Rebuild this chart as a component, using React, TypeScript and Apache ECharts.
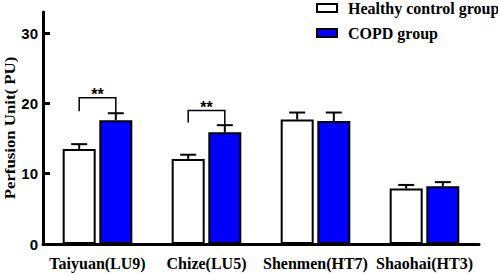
import React, { useEffect, useRef } from "react";
import * as echarts from "echarts";

const categories = ["Taiyuan(LU9)", "Chize(LU5)", "Shenmen(HT7)", "Shaohai(HT3)"];
const seriesNames = ["Healthy control group", "COPD group"];
const healthyMeans = [13.5, 12.1, 17.7, 7.9];
const healthyErrors = [0.7, 0.6, 1.0, 0.5];
const copdMeans = [17.6, 15.9, 17.5, 8.2];
const copdErrors = [1.0, 1.0, 1.2, 0.6];
// [category index, bracket top, left leg bottom, right leg bottom, label]
const significance: [number, number, number, number, string][] = [
  [0, 20.8, 18.9, 18.6, "**"],
  [1, 19.0, 17.3, 16.9, "**"],
];
const yTicks = [0, 10, 20, 30];

const BAR_W = 33;
const BAR_GAP = 0.11;
const OFFSET = (BAR_W + BAR_W * BAR_GAP) / 2;
const SERIF = "'Liberation Serif', 'Times New Roman', serif";

export default function App() {
  const ref = useRef<HTMLDivElement>(null);
  useEffect(() => {
    if (!ref.current) return;
    const chart = echarts.init(ref.current, null, { renderer: "svg" });
    const errData: number[][] = [];
    healthyMeans.forEach((v, i) => errData.push([i, v, healthyErrors[i], 0]));
    copdMeans.forEach((v, i) => errData.push([i, v, copdErrors[i], 1]));

    chart.setOption({
      animation: false,
      textStyle: { fontFamily: SERIF },
      grid: { left: 43, right: 19, top: 12, bottom: 30, containLabel: false },
      legend: {
        orient: "vertical",
        left: 316,
        top: 0,
        padding: 0,
        itemWidth: 20,
        itemHeight: 8,
        itemGap: 9,
        data: seriesNames,
        icon: "rect",
        itemStyle: { borderColor: "#000", borderWidth: 2 },
        textStyle: {
          fontFamily: SERIF,
          fontWeight: "bold",
          fontSize: 16,
          color: "#000",
          lineHeight: 16,
          padding: [0, 0, 0, 6],
        },
      },
      xAxis: {
        type: "category",
        data: categories,
        axisLine: { lineStyle: { color: "#000", width: 3 } },
        axisTick: { show: false },
        axisLabel: {
          color: "#000",
          fontFamily: SERIF,
          fontWeight: "bold",
          fontSize: 16,
          margin: 11,
          interval: 0,
        },
      },
      yAxis: {
        type: "value",
        min: 0,
        max: 33,
        interval: 10,
        splitLine: { show: false },
        axisLine: { show: true, lineStyle: { color: "#000", width: 3 } },
        axisTick: {
          show: true,
          inside: true,
          length: 7,
          lineStyle: { color: "#000", width: 3 },
          customValues: yTicks,
        },
        axisLabel: {
          color: "#000",
          fontFamily: "Liberation Sans",
          fontWeight: "bold",
          fontSize: 15,
          margin: 5,
          customValues: yTicks,
        },
      },
      graphic: [
        {
          type: "text",
          x: 9.5,
          y: 128,
          rotation: Math.PI / 2,
          scaleX: 1.12,
          style: {
            text: "Perfusion Unit( PU)",
            fontFamily: SERIF,
            fontWeight: "bold",
            fontSize: 15,
            fill: "#000",
            textAlign: "center",
            textVerticalAlign: "middle",
          },
        },
      ],
      series: [
        {
          name: seriesNames[0],
          type: "bar",
          data: healthyMeans,
          barWidth: BAR_W,
          barGap: BAR_GAP * 100 + "%",
          itemStyle: { color: "#fff", borderColor: "#000", borderWidth: 2 },
        },
        {
          name: seriesNames[1],
          type: "bar",
          data: copdMeans,
          barWidth: BAR_W,
          barGap: BAR_GAP * 100 + "%",
          itemStyle: { color: "#0000ff", borderColor: "#000", borderWidth: 2 },
        },
        {
          type: "custom",
          data: errData,
          z: 1,
          renderItem: (params: any, api: any) => {
            const cat = api.value(0);
            const v = api.value(1);
            const e = api.value(2);
            const s = api.value(3);
            const cx = api.coord([cat, 0])[0] + (s === 0 ? -OFFSET : OFFSET);
            const y0 = api.coord([cat, v])[1];
            const y1 = api.coord([cat, v + e])[1];
            const st = { stroke: "#000", lineWidth: 2 };
            return {
              type: "group",
              children: [
                { type: "line", shape: { x1: cx, y1: y0, x2: cx, y2: y1 }, style: st },
                { type: "line", shape: { x1: cx - 8, y1: y1, x2: cx + 8, y2: y1 }, style: st },
              ],
            };
          },
        },
        {
          type: "custom",
          data: significance,
          renderItem: (params: any, api: any) => {
            const cat = api.value(0);
            const top = api.value(1);
            const ll = api.value(2);
            const rl = api.value(3);
            const c = api.coord([cat, 0])[0];
            const xl = c - OFFSET;
            const xr = c + OFFSET;
            const yt = api.coord([cat, top])[1];
            const yl = api.coord([cat, ll])[1];
            const yr = api.coord([cat, rl])[1];
            return {
              type: "group",
              children: [
                {
                  type: "polyline",
                  shape: { points: [[xl, yl], [xl, yt], [xr, yt], [xr, yr]] },
                  style: { stroke: "#000", lineWidth: 1.5, fill: "none" },
                },
                {
                  type: "text",
                  x: c,
                  y: yt + 5,
                  style: {
                    text: significance[params.dataIndex][4],
                    fontFamily: "Liberation Sans",
                    fontWeight: "bold",
                    fontSize: 16,
                    fill: "#000",
                    textAlign: "center",
                    textVerticalAlign: "bottom",
                  },
                },
              ],
            };
          },
        },
      ],
    });
    return () => chart.dispose();
  }, []);
  return <div ref={ref} style={{ width: 498, height: 274, position: "absolute", left: 0, top: 0 }} />;
}
